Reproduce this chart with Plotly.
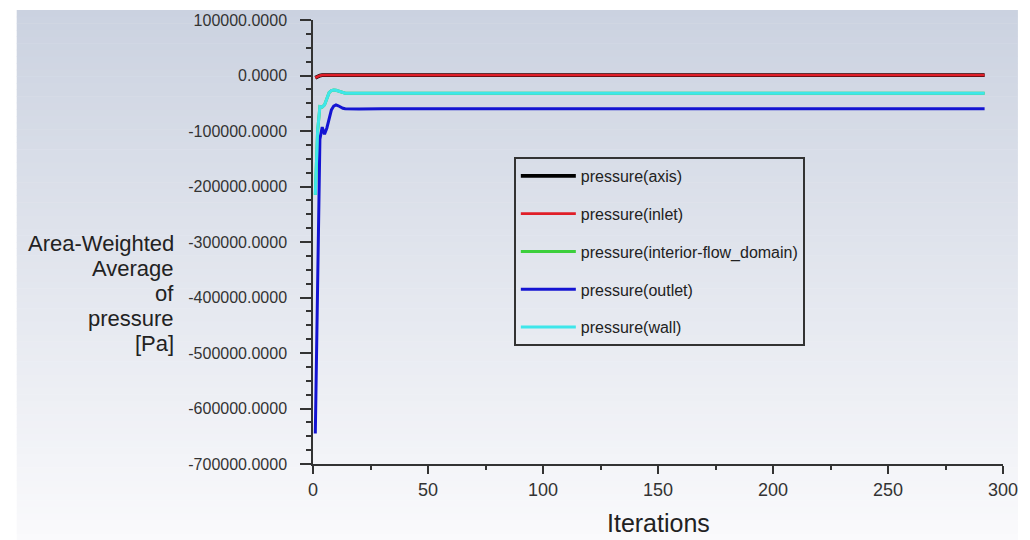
import plotly.graph_objects as go

# ---------------- data ----------------
iterations = [1, 2, 3, 4, 5, 6, 7, 8, 9, 10, 11, 12, 13, 14, 16, 20, 30, 50, 100, 150, 200, 250, 292]

p_axis = [-4000, -1500, 0, 500, 500, 500, 500, 500, 500, 500, 500, 500, 500, 500, 500, 500, 500, 500, 500, 500, 500, 500, 500]
p_inlet = [-4000, -1500, 0, 500, 500, 500, 500, 500, 500, 500, 500, 500, 500, 500, 500, 500, 500, 500, 500, 500, 500, 500, 500]
p_interior = [-215000, -100000, -56000, -57000, -53000, -40000, -31000, -27000, -26000, -26500, -28000, -30000, -31000,
              -32000, -32000, -32000, -32000, -32000, -32000, -32000, -32000, -32000, -32000]
p_outlet = [-645000, -380000, -115000, -93000, -106000, -95000, -76000, -62000, -55000, -53000, -54500, -57000, -59000,
            -60000, -60200, -60200, -60000, -60000, -60000, -59900, -59800, -59800, -59800]
p_wall = [-215000, -100000, -56000, -57000, -53000, -40000, -31000, -27000, -26000, -26500, -28000, -30000, -31000,
          -32000, -32000, -32000, -32000, -32000, -32000, -32000, -32000, -32000, -32000]

series_names = ["pressure(axis)", "pressure(inlet)", "pressure(interior-flow_domain)",
                "pressure(outlet)", "pressure(wall)"]
series_values = [p_axis, p_inlet, p_interior, p_outlet, p_wall]
series_colors = ["#000000", "#e01e28", "#3ccf3c", "#1414d2", "#3ee6ea"]
series_widths = [3.8, 2.8, 3, 3, 3]

x_tick_values = [0, 50, 100, 150, 200, 250, 300]
y_tick_values = [100000, 0, -100000, -200000, -300000, -400000, -500000, -600000, -700000]
y_tick_labels = ["100000.0000", "0.0000", "-100000.0000", "-200000.0000", "-300000.0000",
                 "-400000.0000", "-500000.0000", "-600000.0000", "-700000.0000"]
y_title_lines = ["Area-Weighted", "Average", "of", "pressure", "[Pa]"]
x_title = "Iterations"

# ---------------- figure ----------------
W, H = 1030, 540
ML, MR, MT, MB = 313, 23, 20, 76
plot_w = W - ML - MR
plot_h = H - MT - MB

def px_x(px):
    return (px - ML) / plot_w

def px_y(py):
    return (H - MB - py) / plot_h

fig = go.Figure()
for i, (name, vals, col, lw) in enumerate(zip(series_names, series_values, series_colors, series_widths)):
    fig.add_trace(go.Scatter(
        x=iterations, y=vals, mode="lines", name=name,
        line=dict(color=col, width=lw), legendgroup=f"g{i}",
    ))

# background gradient
shapes = []
n = 80
top_px, bot_px = 10, 540
left_px, right_px = 15, 1022
c0 = (203, 210, 224)
c1 = (250, 250, 252)
for k in range(n):
    y0 = top_px + (bot_px - top_px) * k / n
    y1 = top_px + (bot_px - top_px) * (k + 1) / n + 0.6
    t = (k + 0.5) / n
    c = tuple(round(c0[j] + (c1[j] - c0[j]) * t) for j in range(3))
    shapes.append(dict(type="rect", xref="paper", yref="paper", layer="below",
                       x0=px_x(left_px), x1=px_x(right_px), y0=px_y(y1), y1=px_y(y0),
                       fillcolor=f"rgb{c}", line=dict(width=0)))

annotations = []
line_gap = 25
for i, txt in enumerate(y_title_lines):
    annotations.append(dict(text=txt, xref="paper", yref="paper", x=px_x(175), y=px_y(243.5 + i * line_gap),
                            xanchor="right", yanchor="middle", showarrow=False,
                            font=dict(family="Arial, Liberation Sans", size=22, color="#222")))
annotations.append(dict(text=x_title, xref="paper", yref="paper", x=0.5, y=px_y(523),
                        xanchor="center", yanchor="middle", showarrow=False,
                        font=dict(family="Arial, Liberation Sans", size=25, color="#222")))

axis_col = "#333333"
fig.update_layout(
    width=W, height=H, autosize=False,
    margin=dict(l=ML, r=MR, t=MT, b=MB, pad=0),
    paper_bgcolor="white", plot_bgcolor="rgba(0,0,0,0)",
    shapes=shapes, annotations=annotations,
    font=dict(family="Arial, Liberation Sans", color="#222"),
    showlegend=True,
    legend=dict(x=px_x(515), y=px_y(157), xanchor="left", yanchor="top",
                bgcolor="rgba(0,0,0,0)", bordercolor="#333", borderwidth=2,
                font=dict(family="Arial, Liberation Sans", size=16, color="#222"),
                tracegroupgap=14, itemwidth=55, traceorder="grouped"),
    xaxis=dict(range=[0, 300], tickmode="array", tickvals=x_tick_values,
               ticks="outside", ticklen=8, tickwidth=1.5, tickcolor=axis_col,
               showline=True, linecolor=axis_col, linewidth=1.5,
               showgrid=False, zeroline=False, ticklabelstandoff=1,
               tickfont=dict(family="Arial, Liberation Sans", size=18, color="#333"),
               minor=dict(tickmode="linear", tick0=0, dtick=25, ticks="outside", ticklen=4,
                          tickwidth=1.5, tickcolor=axis_col, showgrid=False)),
    yaxis=dict(range=[-700000, 100000], tickmode="array", tickvals=y_tick_values, ticktext=y_tick_labels,
               ticks="outside", ticklen=11, tickwidth=1.5, tickcolor=axis_col,
               showline=True, linecolor=axis_col, linewidth=1.5,
               showgrid=False, zeroline=False, ticklabelstandoff=10,
               tickfont=dict(family="Arial, Liberation Sans", size=16, color="#333"),
               minor=dict(tickmode="linear", tick0=0, dtick=25000, ticks="outside", ticklen=5,
                          tickwidth=1.5, tickcolor=axis_col, showgrid=False)),
)

fig.write_html("out.html")
